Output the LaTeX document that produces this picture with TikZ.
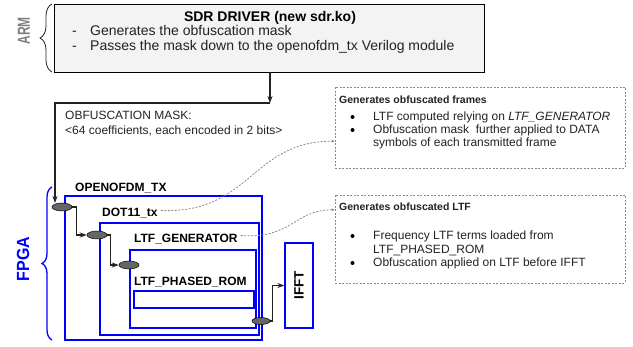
\documentclass[tikz,border=0pt]{standalone}
\usepackage{fontspec}
\setmainfont{Liberation Sans}
\usetikzlibrary{arrows.meta,decorations.pathreplacing,shapes.geometric,fit,calc}
\definecolor{fblue}{HTML}{0000FF}
\definecolor{armgray}{HTML}{7F7F7F}
\definecolor{boxfill}{HTML}{F3F3F3}
\definecolor{dashgray}{HTML}{8A8A8A}
\definecolor{ellfill}{HTML}{666666}
\definecolor{linec}{HTML}{222222}
\definecolor{txt}{HTML}{222222}
\begin{document}
\begin{tikzpicture}[x=1pt,y=-1pt,
  blkbox/.style={draw=fblue, line width=1.2pt, inner sep=0pt},
  armbox/.style={draw=black, fill=boxfill, line width=0.9pt, inner sep=0pt},
  callout/.style={draw=dashgray, line width=0.8pt, dash pattern=on 2pt off 1.5pt, inner sep=0pt},
  ell/.style={ellipse, draw=black, fill=ellfill, line width=0.5pt, minimum width=20pt, minimum height=8pt, inner sep=0pt},
  conn/.style={draw=linec, line width=1.1pt, -{Stealth[length=7pt,width=5pt]}},
  dconn/.style={draw=dashgray, line width=0.8pt, dash pattern=on 2pt off 1.5pt, -{Stealth[length=3pt,width=3pt]}},
  lbl/.style={font=\fontsize{12}{14}\selectfont\bfseries, inner sep=0pt, anchor=base west, text=black},
  armtxt/.style={font=\fontsize{14}{16}\selectfont, inner sep=0pt, anchor=base west, text=txt},
  body/.style={font=\fontsize{12}{14}\selectfont, inner sep=0pt, anchor=base west, text=txt},
  ctitle/.style={font=\fontsize{10.5}{12}\selectfont\bfseries, inner sep=0pt, anchor=base west, text=txt},
  bul/.style={circle, fill=black, minimum size=4pt, inner sep=0pt},
]
\useasboundingbox (0,0) rectangle (633,347);

% ARM section
\node[armbox, fit={(54,4)(484,72)}] (arm) {};
\node[armtxt, anchor=base, font=\fontsize{14}{16}\selectfont\bfseries, text=black] (armt) at (270,22) {SDR DRIVER (new sdr.ko)};
\node[armtxt] (armd1) at (72,36) {-};
\node[armtxt] (arml1) at (90,36) {Generates the obfuscation mask};
\node[armtxt] (armd2) at (72,51) {-};
\node[armtxt] (arml2) at (90,51) {Passes the mask down to the openofdm\_tx Verilog module};
\draw[decorate, decoration={brace, amplitude=12pt}, draw=linec, line width=0.8pt] (52,72) -- (52,4);
\node[rotate=90, text=armgray, font=\fontsize{12}{14}\selectfont\bfseries, inner sep=0pt] (armlbl) at (24,31) {\scalebox{1}[1.45]{ARM}};

% mask label
\node[body] (mask1) at (65,120) {OBFUSCATION MASK:};
\node[body] (mask2) at (65,135) {<64 coefficients, each encoded in 2 bits>};

% FPGA
\draw[decorate, decoration={brace, amplitude=10pt}, draw=fblue, line width=1.3pt] (52,340) -- (52,187);
\node[rotate=90, text=fblue, font=\fontsize{16}{18}\selectfont\bfseries, inner sep=0pt] (fpgalbl) at (23,259) {\scalebox{1}[1.1]{FPGA}};

\node[blkbox, fit={(65,196)(262,340)}] (otx) {};
\node[lbl] (otxl) at (75,192) {OPENOFDM\_TX};
\node[blkbox, fit={(100,223)(259,335)}] (dot) {};
\node[lbl] (dotl) at (102,217) {DOT11\_tx};
\node[blkbox, fit={(130,250)(256,328)}] (gen) {};
\node[lbl] (genl) at (134,243) {LTF\_GENERATOR};
\node[lbl] (roml) at (134,286) {LTF\_PHASED\_ROM};
\node[blkbox, fit={(134,291)(254,308)}] (rom) {};
\node[blkbox, fit={(285,243)(313,328)}] (ifft) {};
\node[rotate=90, font=\fontsize{13.5}{15}\selectfont\bfseries, inner sep=0pt] (ifftl) at (ifft.center) {IFFT};

\node[ell] (e1) at (62,207) {};
\node[ell] (e2) at (97,235) {};
\node[ell] (e3) at (129,265) {};
\node[ell, minimum width=18pt, minimum height=7pt] (e4) at (261,321) {};

% connectors
\coordinate (j) at (270,103);
\coordinate (e1in) at (55,203);
\draw[conn] (arm.south -| j) -- (j);
\draw[conn] (j) -| (e1in);
\draw[conn] (e1.east) -- ++(4,0) |- (e2.west);
\draw[conn] (e2.east) -- ++(3,0) |- (e3.west);
\draw[conn] (e4.east) -- ++(2,0) |- (ifft.west);

% callouts
\node[callout, fit={(335,87)(625,168)}] (c1) {};
\node[ctitle] (c1t) at (339,104) {Generates obfuscated frames};
\node[bul] (c1b1) at (352.5,117) {};
\node[body] (c1l1) at (373,121) {LTF computed relying on \textit{LTF\_GENERATOR}};
\node[bul] (c1b2) at (352.5,130) {};
\node[body] (c1l2) at (373,134) {Obfuscation mask\ \ further applied to DATA};
\node[body] (c1l3) at (373,147) {symbols of each transmitted frame};

\node[callout, fit={(335,195)(625,283)}] (c2) {};
\node[ctitle] (c2t) at (339,211) {Generates obfuscated LTF};
\node[bul] (c2b1) at (352.5,236) {};
\node[body] (c2l1) at (373,240) {Frequency LTF terms loaded from};
\node[body] (c2l2) at (373,254) {LTF\_PHASED\_ROM};
\node[bul] (c2b2) at (352.5,263) {};
\node[body] (c2l3) at (373,267) {Obfuscation applied on LTF before IFFT};

\draw[dconn] ($(dotl.east)+(3,-3)$) .. controls (251,214) and (251,141) .. ($(c1.north west)!0.667!(c1.south west)$);
\draw[dconn] ($(genl.east)+(3,-4)$) .. controls (293,239) and (293,210) .. ($(c2.north west)!0.17!(c2.south west)$);
\end{tikzpicture}
\end{document}
